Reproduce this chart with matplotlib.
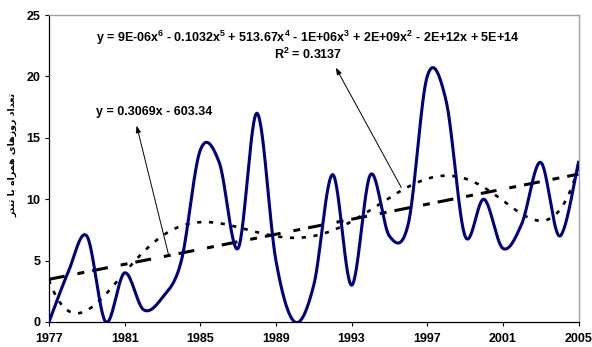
import numpy as np
import matplotlib
matplotlib.use("Agg")
import matplotlib.pyplot as plt

# ---------------------------------- data ----------------------------------
years = list(range(1977, 2006))
days = [0, 4, 7, 0, 4, 1, 2, 5, 14, 13, 6, 17, 5, 0, 3, 12, 3, 12, 7, 8,
        20, 18, 7, 10, 6, 8, 13, 7, 13]
xtick_years = list(range(1977, 2006, 4))
yticks = [0, 5, 10, 15, 20, 25]

poly_label = (r"y = 9E-06x$^{6}$ - 0.1032x$^{5}$ + 513.67x$^{4}$ - 1E+06x$^{3}$"
              r" + 2E+09x$^{2}$ - 2E+12x + 5E+14")
r2_label = r"R$^{2}$ = 0.3137"
lin_label = "y = 0.3069x - 603.34"
# "تعداد روزهای همراه با تندر" in shaped presentation forms, visual order
ylabel = ("\uFEAD\uFEAA\uFEE8\uFE97 \uFE8E\uFE91 \uFEE9\uFE8D\uFEAE\uFEE4\uFEEB "
          "\uFEEF\uFE8E\uFEEB\uFEAF\uFEED\uFEAD \uFEA9\uFE8D\uFEAA\uFECC\uFE97")

plt.rcParams["font.family"] = ["Liberation Sans", "DejaVu Sans"]
plt.rcParams["font.weight"] = "bold"
plt.rcParams["mathtext.fontset"] = "custom"
plt.rcParams["mathtext.rm"] = "Liberation Sans:bold"
plt.rcParams["mathtext.it"] = "Liberation Sans:bold"
plt.rcParams["mathtext.bf"] = "Liberation Sans:bold"
plt.rcParams["lines.scale_dashes"] = False


def excel_smooth(xs, ys, sx, sy, n=30):
    """Bezier smoothing like Excel (Catmull-Rom, parametric in screen space)."""
    P = np.column_stack([np.asarray(xs, float) * sx, np.asarray(ys, float) * sy])
    out = []
    for i in range(len(P) - 1):
        p0 = P[max(i - 1, 0)]
        p1, p2 = P[i], P[i + 1]
        p3 = P[min(i + 2, len(P) - 1)]
        c1 = p1 + (p2 - p0) / 6.0
        c2 = p2 - (p3 - p1) / 6.0
        t = np.linspace(0, 1, n)[:, None]
        seg = ((1 - t) ** 3) * p1 + 3 * ((1 - t) ** 2) * t * c1 + 3 * (1 - t) * t ** 2 * c2 + t ** 3 * p2
        out.append(seg if i == 0 else seg[1:])
    out = np.vstack(out)
    return out[:, 0] / sx, out[:, 1] / sy


fig = plt.figure(figsize=(5.92, 3.47), dpi=100)
ax = fig.add_axes([49 / 592, 1 - 322 / 347, 529.5 / 592, 307 / 347])

x = np.array(years, float)
y = np.array(days, float)

# smoothed series
sx_, sy_ = excel_smooth(x, y, 18.91, 12.28)
ax.plot(sx_, sy_, color="#000080", lw=2.2, zorder=3)

# trendlines
xf = np.linspace(1977, 2005, 300)
c6 = np.polyfit(x - 1991, y, 6)
ax.plot(xf, np.polyval(c6, xf - 1991), color="black", lw=1.9,
        dashes=(3, 5.5), zorder=2)
c1 = np.polyfit(x, y, 1)
ax.plot(xf, np.polyval(c1, xf), color="black", lw=2.2,
        dashes=(11.5, 9.4, 5, 5.8), zorder=2)

# labels + arrows
ax.text(1990.7, 23.1, poly_label, ha="center", va="center", fontsize=9)
ax.text(1990.7, 21.8, r2_label, ha="center", va="center", fontsize=9)
ax.text(1982.55, 17.1, lin_label, ha="center", va="center", fontsize=9)
arr = dict(arrowstyle="-|>,head_length=0.4,head_width=0.15", color="black", lw=0.7)
ax.annotate("", xy=(1981.6, 16.2), xytext=(1983.35, 5.3), arrowprops=arr)
ax.annotate("", xy=(1992.1, 20.9), xytext=(1995.7, 10.75), arrowprops=arr)

ax.set_xlim(1977, 2005)
ax.set_ylim(0, 25)
ax.set_xticks(xtick_years)
ax.set_yticks(yticks)
ax.tick_params(axis="both", direction="out", length=3, width=0.8, labelsize=9)
ax.tick_params(axis="x", pad=5)
ax.tick_params(axis="y", pad=3)
for lab in ax.get_xticklabels() + ax.get_yticklabels():
    lab.set_fontweight("bold")
for s in ["top", "right"]:
    ax.spines[s].set_color("#a0a0a0")
    ax.spines[s].set_linewidth(1.0)
for s in ["left", "bottom"]:
    ax.spines[s].set_linewidth(0.9)

fig.text(13 / 592, 1 - 155 / 347, ylabel, rotation=90, ha="center", va="center",
         fontsize=6.8, fontweight="bold", family=["DejaVu Sans"])

fig.savefig("out.png", dpi=100)
